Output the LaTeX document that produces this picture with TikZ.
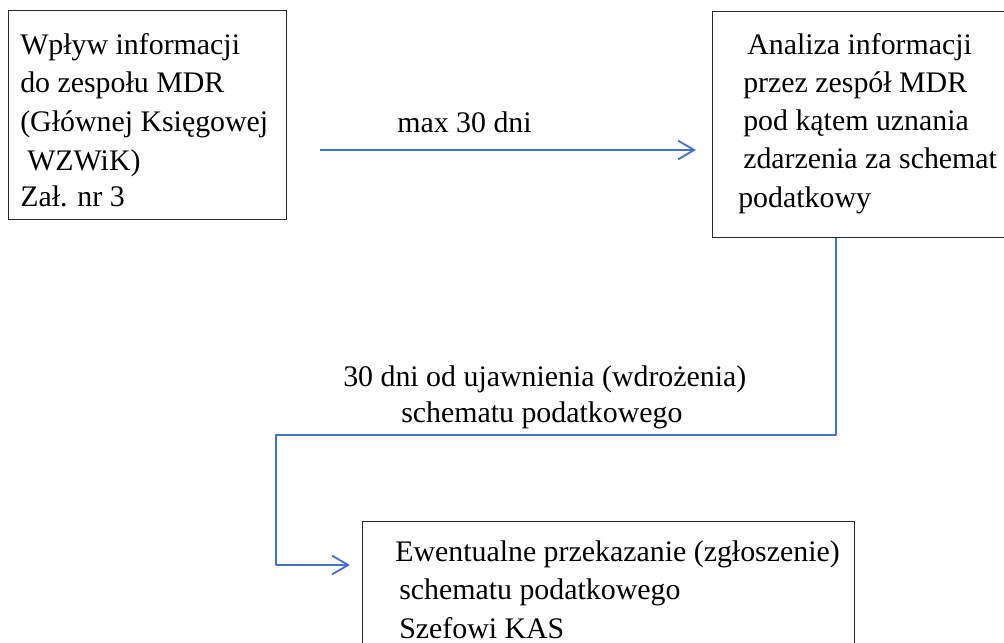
\documentclass[tikz,border=0pt]{standalone}
\usepackage{fontspec}
\setmainfont{Liberation Serif}
\usetikzlibrary{arrows.meta}
\definecolor{linkblue}{RGB}{68,114,196}
\definecolor{boxline}{RGB}{40,40,40}
\tikzset{
  box/.style={draw=boxline, line width=0.9pt, inner sep=0pt, anchor=north west},
  ln/.style={anchor=base west, inner sep=0pt, font=\fontsize{22.4}{26}\selectfont},
  flow/.style={draw=linkblue, line width=1.6pt, line join=round,
    -{Straight Barb[length=12pt,width=14pt,line width=1.4pt]}}
}
\begin{document}
\begin{tikzpicture}[x=0.75pt,y=-0.75pt]
\useasboundingbox (0,0) rectangle (1004,643);
% boxes
\node[box, minimum width=278*0.75pt, minimum height=209*0.75pt] (wp) at (8,10) {};
\node[box, minimum width=300*0.75pt, minimum height=226*0.75pt] (an) at (712,11) {};
\node[box, minimum width=492*0.75pt, minimum height=140*0.75pt] (ew) at (362,521) {};
% box 1 text
\node[ln] (wp1) at (20,54) {Wpływ informacji};
\node[ln] (wp2) at (20,92) {do zespołu MDR};
\node[ln] (wp3) at (20,131) {(Głównej Księgowej};
\node[ln] (wp4) at (27,170) {WZWiK)};
\node[ln] (wp5) at (20,206) {Zał. nr 3};
% box 2 text
\node[ln] (an1) at (747,54) {Analiza informacji};
\node[ln] (an2) at (743,92.3) {przez zespół MDR};
\node[ln] (an3) at (743,130.6) {pod kątem uznania};
\node[ln] (an4) at (743,168.9) {zdarzenia za schemat};
\node[ln] (an5) at (738,207.2) {podatkowy};
% box 3 text
\node[ln] (ew1) at (395,561) {Ewentualne przekazanie (zgłoszenie)};
\node[ln] (ew2) at (399,599.5) {schematu podatkowego};
\node[ln] (ew3) at (399,638) {Szefowi KAS};
% labels
\node[ln] (l1) at (397,132) {max 30 dni};
\node[ln] (l2a) at (343,386) {30 dni od ujawnienia (wdrożenia)};
\node[ln] (l2b) at (401,422) {schematu podatkowego};
% connectors
\coordinate (a1s) at (320,150);
\coordinate (a1e) at (696,150);
\draw[flow] (a1s) -- (a1e);
\coordinate (c1) at (836,435);
\coordinate (c2) at (276,435);
\coordinate (c3) at (350,565);
\draw[flow] (an.south -| c1) -- (c1) -- (c2) |- (c3);
\end{tikzpicture}
\end{document}
